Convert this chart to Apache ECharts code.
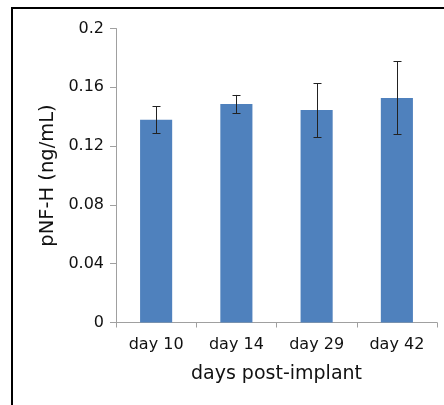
<!DOCTYPE html>
<html><head><meta charset="utf-8">
<script src="https://cdn.jsdelivr.net/npm/echarts@6/dist/echarts.min.js"></script>
<style>html,body{margin:0;padding:0;background:#fff}#c{width:444px;height:405px}</style>
</head><body><div id="c"></div>
<script>
const categories = ['day 10', 'day 14', 'day 29', 'day 42'];
const means = [0.138, 0.1486, 0.1446, 0.1527];
const errLow = [0.1287, 0.1423, 0.1262, 0.128];
const errHigh = [0.147, 0.1548, 0.1627, 0.1777];
const yTickLabels = ['0', '0.04', '0.08', '0.12', '0.16', '0.2'];

const chart = echarts.init(document.getElementById('c'), null, {renderer: 'canvas'});
const FONT = 'DejaVu Sans';
chart.setOption({
  animation: false,
  graphic: [{
    type: 'polyline', silent: true,
    shape: {points: [[12, 410], [12, 8], [450, 8]]},
    style: {stroke: '#000', lineWidth: 2, fill: null}
  }],
  grid: {left: 116, right: 7, top: 28.5, bottom: 82.5},
  xAxis: {
    type: 'category', data: categories,
    name: 'days post-implant', nameLocation: 'middle', nameGap: 42,
    nameTextStyle: {fontFamily: FONT, fontSize: 19, color: '#111'},
    axisLine: {lineStyle: {color: '#a0a0a0', width: 1}},
    axisTick: {show: true, length: 5, lineStyle: {color: '#a0a0a0'}},
    axisLabel: {fontFamily: FONT, fontSize: 16, color: '#111', margin: 14}
  },
  yAxis: {
    type: 'value', min: 0, max: 0.2, interval: 0.04,
    name: 'pNF-H (ng/mL)', nameLocation: 'middle', nameGap: 56,
    nameTextStyle: {fontFamily: FONT, fontSize: 19.5, color: '#111'},
    axisLine: {show: true, lineStyle: {color: '#a0a0a0', width: 1}},
    axisTick: {show: true, length: 6, lineStyle: {color: '#a0a0a0'}},
    splitLine: {show: false},
    axisLabel: {
      fontFamily: FONT, fontSize: 16, color: '#111', margin: 12,
      formatter: (v) => yTickLabels[Math.round(v / 0.04)]
    }
  },
  series: [{
    type: 'bar', data: means, barWidth: '40%',
    itemStyle: {color: '#4F81BD'}
  }, {
    type: 'custom',
    data: categories.map((c, i) => [i, errLow[i], errHigh[i]]),
    renderItem: (params, api) => {
      const lo = api.coord([api.value(0), api.value(1)]);
      const hi = api.coord([api.value(0), api.value(2)]);
      const x = Math.round(lo[0]) + 0.5;
      const w = 4;
      const st = {stroke: '#222', lineWidth: 1};
      return {type: 'group', children: [
        {type: 'line', shape: {x1: x, y1: lo[1], x2: x, y2: hi[1]}, style: st},
        {type: 'line', shape: {x1: x - w, y1: Math.round(lo[1]) + 0.5, x2: x + w, y2: Math.round(lo[1]) + 0.5}, style: st},
        {type: 'line', shape: {x1: x - w, y1: Math.round(hi[1]) + 0.5, x2: x + w, y2: Math.round(hi[1]) + 0.5}, style: st}
      ]};
    },
    z: 10
  }]
});
</script></body></html>
